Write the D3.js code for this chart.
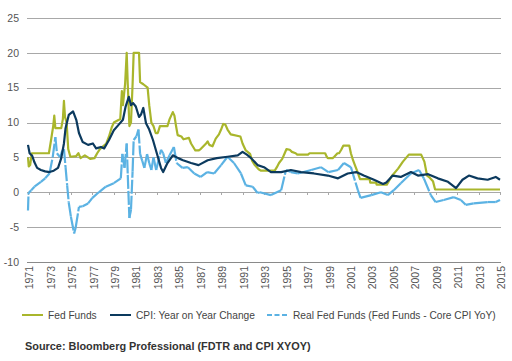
<!DOCTYPE html>
<html lang="en">
    <head>
	<meta charset="utf-8">
	<title>Fed Funds vs CPI</title>
	<script src="https://cdn.jsdelivr.net/npm/d3@7/dist/d3.min.js" charset="utf-8"></script>
	<style>
	 body { margin: 0; background: #fff; }
	 text { font-family: "Liberation Sans", Arial, sans-serif; }
	</style>
    </head>
    <body>
	<script type="text/javascript">

	 // [year, value]
	 var fedFunds = [
	     [1971.00, 5.0], [1971.07, 3.7], [1971.2, 3.9], [1971.35, 5.6], [1972.95, 5.6], [1973.15, 7.5],
	     [1973.35, 9.5], [1973.45, 11.0], [1973.55, 9.2], [1974.1, 9.2], [1974.25, 10.5], [1974.35, 13.1],
	     [1974.45, 10.8], [1974.6, 10.0], [1974.75, 6.2], [1974.95, 5.1], [1975.5, 5.2], [1975.7, 5.6],
	     [1975.9, 4.9], [1976.3, 5.3], [1976.8, 4.8], [1977.2, 4.9], [1977.45, 5.6], [1977.7, 6.2],
	     [1978.0, 6.6], [1978.3, 7.0], [1978.55, 8.0], [1978.8, 9.3], [1979.0, 10.0], [1979.6, 10.5],
	     [1979.75, 14.5], [1979.85, 12.5], [1980.05, 15.5], [1980.2, 20.0], [1980.3, 15.5], [1980.45, 9.5],
	     [1980.6, 10.0], [1980.75, 15.5], [1980.85, 20.0], [1981.35, 20.0], [1981.45, 15.8], [1981.75, 15.5],
	     [1982.15, 15.0], [1982.3, 12.5], [1982.5, 10.0], [1982.7, 9.5], [1982.9, 8.5], [1983.1, 8.5],
	     [1983.3, 9.5], [1984.0, 9.5], [1984.2, 10.5], [1984.5, 11.5], [1984.65, 11.0], [1984.8, 9.5],
	     [1984.95, 8.2], [1985.3, 8.0], [1985.5, 7.6], [1986.0, 7.8], [1986.2, 7.0], [1986.6, 6.0],
	     [1986.9, 6.0], [1987.1, 6.2], [1987.6, 7.0], [1987.75, 7.3], [1987.9, 6.8], [1988.2, 6.6],
	     [1988.5, 7.7], [1988.8, 8.3], [1989.0, 9.0], [1989.2, 9.8], [1989.4, 9.7], [1989.6, 9.0],
	     [1989.9, 8.3], [1990.8, 8.0], [1991.0, 7.0], [1991.3, 6.0], [1991.7, 5.5], [1991.9, 4.5],
	     [1992.1, 4.0], [1992.5, 3.3], [1992.7, 3.1], [1994.0, 3.1], [1994.2, 3.6], [1994.4, 4.2],
	     [1994.7, 4.8], [1994.9, 5.5], [1995.1, 6.2], [1995.4, 6.1], [1995.6, 5.8], [1995.95, 5.6],
	     [1996.1, 5.4], [1997.1, 5.4], [1997.25, 5.6], [1998.7, 5.6], [1998.85, 5.1], [1998.95, 4.9],
	     [1999.4, 4.9], [1999.55, 5.1], [1999.85, 5.6], [2000.0, 5.6], [2000.2, 6.1], [2000.4, 6.7],
	     [2000.95, 6.7], [2001.1, 5.6], [2001.3, 4.6], [2001.5, 3.8], [2001.7, 3.0], [2001.95, 1.9],
	     [2002.85, 1.9], [2002.9, 1.4], [2003.45, 1.4], [2003.5, 1.1], [2004.45, 1.1], [2004.9, 2.3],
	     [2005.5, 3.4], [2005.95, 4.4], [2006.5, 5.4], [2007.65, 5.4], [2007.95, 4.4], [2008.2, 2.4],
	     [2008.45, 2.1], [2008.75, 1.6], [2008.95, 0.4], [2015.0, 0.4]
	 ];

	 var coreCpi = [
	     [1971.0, 6.8], [1971.15, 5.6], [1971.4, 5.2], [1971.6, 4.3], [1971.85, 3.5], [1972.2, 3.2],
	     [1972.6, 3.0], [1973.0, 2.9], [1973.4, 3.1], [1973.8, 3.5], [1974.1, 4.9], [1974.35, 7.0],
	     [1974.5, 9.2], [1974.8, 11.1], [1975.2, 11.6], [1975.5, 10.4], [1975.75, 8.5], [1976.1, 7.2],
	     [1976.6, 6.8], [1977.05, 7.0], [1977.35, 6.3], [1977.8, 6.5], [1978.1, 6.3], [1978.55, 7.5],
	     [1979.0, 8.9], [1979.4, 9.6], [1979.85, 10.4], [1980.1, 12.3], [1980.4, 13.7], [1980.6, 12.5],
	     [1980.8, 12.8], [1981.05, 12.3], [1981.35, 10.8], [1981.55, 11.2], [1981.75, 12.1], [1982.0, 9.9],
	     [1982.3, 9.0], [1982.65, 7.5], [1983.1, 5.1], [1983.4, 3.5], [1983.6, 2.9], [1984.0, 4.2],
	     [1984.5, 5.3], [1985.0, 4.9], [1985.45, 4.6], [1986.2, 4.2], [1986.9, 3.9], [1987.75, 4.6],
	     [1988.6, 4.9], [1989.6, 5.1], [1990.55, 5.3], [1991.0, 5.8], [1991.4, 5.4], [1991.8, 4.9],
	     [1992.4, 3.9], [1993.0, 3.6], [1993.65, 2.9], [1994.6, 2.9], [1995.5, 3.2], [1996.45, 2.9],
	     [1997.65, 2.7], [1998.95, 2.4], [1999.9, 2.0], [2000.8, 2.7], [2001.6, 2.9], [2002.3, 2.4],
	     [2003.25, 1.8], [2004.1, 1.2], [2004.4, 1.4], [2005.0, 2.4], [2005.75, 2.2], [2006.7, 2.9],
	     [2007.35, 2.4], [2008.3, 2.6], [2009.2, 2.0], [2010.15, 1.5], [2010.9, 0.6], [2011.5, 1.8],
	     [2012.1, 2.4], [2012.9, 2.0], [2013.85, 1.8], [2014.6, 2.2], [2015.0, 1.8]
	 ];

	 var realFedFunds = [
	     [1971.0, -2.6], [1971.05, -0.1], [1971.3, 0.3], [1971.6, 0.8], [1972.2, 1.5], [1972.6, 2.0],
	     [1973.0, 2.7], [1973.3, 5.0], [1973.55, 7.9], [1973.7, 5.6], [1974.0, 5.0], [1974.2, 6.0],
	     [1974.35, 6.2], [1974.5, 3.6], [1974.65, 1.0], [1974.8, -1.5], [1975.0, -3.5], [1975.3, -5.9],
	     [1975.45, -5.0], [1975.75, -2.1], [1976.1, -2.0], [1976.6, -1.6], [1977.0, -0.8], [1977.6, 0.0],
	     [1978.25, 0.8], [1979.0, 1.3], [1979.65, 2.0], [1979.8, 5.5], [1980.0, 3.5], [1980.2, 7.0],
	     [1980.3, 2.5], [1980.45, -3.7], [1980.6, -2.5], [1980.75, 3.0], [1980.85, 7.5], [1981.1, 8.0],
	     [1981.3, 9.0], [1981.45, 5.5], [1981.65, 4.5], [1981.85, 3.5], [1982.1, 5.5], [1982.3, 4.2],
	     [1982.5, 3.2], [1982.7, 5.0], [1982.95, 3.2], [1983.4, 6.1], [1983.6, 5.6], [1983.85, 4.2],
	     [1984.2, 5.3], [1984.6, 6.5], [1984.85, 4.2], [1985.4, 3.5], [1985.9, 3.6], [1986.5, 2.7],
	     [1987.1, 2.2], [1987.7, 2.9], [1988.35, 2.7], [1989.0, 3.9], [1989.6, 5.1], [1990.2, 4.2],
	     [1990.85, 2.7], [1991.3, 1.0], [1991.95, 0.8], [1992.4, -0.1], [1992.6, 0.0], [1993.65, -0.4],
	     [1994.6, 0.3], [1995.05, 3.2], [1995.5, 2.9], [1996.15, 2.7], [1997.4, 3.2], [1998.3, 3.6],
	     [1999.0, 2.9], [1999.9, 3.2], [2000.45, 4.2], [2001.1, 3.6], [2001.75, 0.3], [2002.0, -0.8],
	     [2003.0, -0.4], [2003.9, 0.0], [2004.55, -0.4], [2005.1, 0.3], [2005.75, 1.3], [2006.7, 2.7],
	     [2007.45, 3.2], [2007.9, 2.0], [2008.55, -0.4], [2009.0, -1.4], [2009.75, -1.1], [2010.7, -0.7],
	     [2011.35, -1.1], [2011.8, -1.8], [2012.55, -1.6], [2013.85, -1.4], [2014.6, -1.4], [2015.0, -1.1]
	 ];

	 var yTicks = [25, 20, 15, 10, 5, 0, -5, -10];
	 var yearTicks = d3.range(1971, 2016, 2);

	 var legendItems = [
	     {label: "Fed Funds", color: "#a9b62c", dash: null},
	     {label: "CPI: Year on Year Change", color: "#0c3a5e", dash: null},
	     {label: "Real Fed Funds (Fed Funds - Core CPI YoY)", color: "#5bb2e3", dash: "5,2.5"}
	 ];

	 //Display specifications
	 var width = 512;
	 var height = 361;

	 var svg = d3.select("body")
		     .append("svg")
		     .attr("width", width)
		     .attr("height", height);

	 var xScale = d3.scaleLinear()
			.domain([1971, 2015])
			.range([28, 500]);

	 var yScale = d3.scaleLinear()
			.domain([-10, 25])
			.range([262, 18]);

	 //Gridlines
	 svg.selectAll(".grid")
	    .data(yTicks)
	    .enter()
	    .append("line")
	    .attr("x1", 27)
	    .attr("x2", 501)
	    .attr("y1", function (d) { return Math.round(yScale(d)) + 0.5; })
	    .attr("y2", function (d) { return Math.round(yScale(d)) + 0.5; })
	    .style("stroke", function (d) { return d == -10 ? "#8a8a8a" : "#a8a8a8"; })
	    .style("stroke-width", 1);

	 //Y labels
	 svg.selectAll(".ylab")
	    .data(yTicks)
	    .enter()
	    .append("text")
	    .attr("x", 19)
	    .attr("y", function (d) { return yScale(d); })
	    .attr("dy", "0.35em")
	    .attr("text-anchor", "end")
	    .style("font-size", "10.5px")
	    .style("fill", "#555")
	    .text(function (d) { return d; });

	 //Small ticks on the zero line
	 svg.selectAll(".tick0")
	    .data(yearTicks)
	    .enter()
	    .append("line")
	    .attr("x1", function (d) { return Math.round(xScale(d)) + 0.5; })
	    .attr("x2", function (d) { return Math.round(xScale(d)) + 0.5; })
	    .attr("y1", Math.round(yScale(0)))
	    .attr("y2", Math.round(yScale(0)) + 3)
	    .style("stroke", "#a8a8a8");

	 //Rotated year labels
	 svg.selectAll(".xlab")
	    .data(yearTicks)
	    .enter()
	    .append("text")
	    .attr("transform", function (d) {
		return "translate(" + (xScale(d) + 1.5) + "," + 266 + ") rotate(-90)";
	    })
	    .attr("dy", "0.35em")
	    .attr("text-anchor", "end")
	    .style("font-size", "10.5px")
	    .style("fill", "#555")
	    .text(function (d) { return d; });

	 var line = d3.line()
		      .x(function (d) { return xScale(d[0]); })
		      .y(function (d) { return yScale(d[1]); });

	 //Real fed funds: dashes restart on every segment, like the original
	 svg.selectAll(".real")
	    .data(d3.pairs(realFedFunds))
	    .enter()
	    .append("path")
	    .attr("d", function (d) { return line(d); })
	    .style("fill", "none")
	    .style("stroke", legendItems[2].color)
	    .style("stroke-width", 2.2)
	    .style("stroke-dasharray", "14,2");

	 svg.append("path")
	    .datum(fedFunds)
	    .attr("d", line)
	    .style("fill", "none")
	    .style("stroke", legendItems[0].color)
	    .style("stroke-width", 2.2)
	    .style("stroke-linejoin", "round");

	 svg.append("path")
	    .datum(coreCpi)
	    .attr("d", line)
	    .style("fill", "none")
	    .style("stroke", legendItems[1].color)
	    .style("stroke-width", 2.2)
	    .style("stroke-linejoin", "round");

	 //Legend
	 var legendX = [22, 110, 267];
	 var legend = svg.selectAll(".legend")
			 .data(legendItems)
			 .enter()
			 .append("g")
			 .attr("transform", function (d, i) { return "translate(" + legendX[i] + ",315)"; });

	 legend.append("line")
	       .attr("x1", 0)
	       .attr("x2", 21)
	       .attr("y1", 0)
	       .attr("y2", 0)
	       .style("stroke", function (d) { return d.color; })
	       .style("stroke-width", 2)
	       .style("stroke-dasharray", function (d) { return d.dash; });

	 legend.append("text")
	       .attr("x", 26)
	       .attr("y", 0)
	       .attr("dy", "0.35em")
	       .style("font-size", "10.2px")
	       .style("fill", "#444")
	       .text(function (d) { return d.label; });

	 svg.append("text")
	    .attr("x", 25)
	    .attr("y", 350)
	    .style("font-size", "10.9px")
	    .style("font-weight", "bold")
	    .style("fill", "#333")
	    .text("Source: Bloomberg Professional (FDTR and CPI XYOY)");

	</script>
    </body>
</html>
